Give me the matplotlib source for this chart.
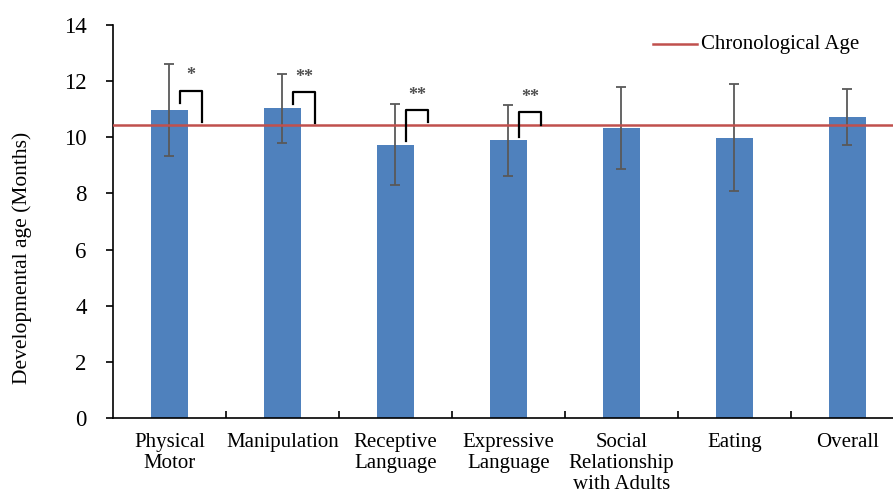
import numpy as np
import matplotlib.pyplot as plt

plt.rcParams['font.family'] = ['Liberation Serif', 'DejaVu Serif']

# data
categories = ['Physical\nMotor', 'Manipulation', 'Receptive\nLanguage', 'Expressive\nLanguage',
              'Social\nRelationship\nwith Adults', 'Eating', 'Overall']
means = [10.97, 11.03, 9.74, 9.89, 10.32, 9.99, 10.72]
sds = [1.65, 1.24, 1.45, 1.26, 1.46, 1.90, 0.99]
chrono_age = 10.44

# significance brackets: (bar index, left leg bottom, top, right leg bottom, label)
sig_bar = [0, 1, 2, 3]
sig_left = [11.23, 11.18, 9.88, 10.00]
sig_top = [11.66, 11.60, 10.97, 10.89]
sig_right = [10.56, 10.50, 10.56, 10.44]
sig_label = ['*', '**', '**', '**']

bar_col = '#4F81BD'
line_col = '#C0504D'

fig = plt.figure(figsize=(8.93, 4.95), dpi=100)
ax = fig.add_axes([0.1265, 0.1556, 0.8858, 0.794])

x = np.arange(len(categories))
ax.bar(x, means, width=0.33, color=bar_col, zorder=2)
ax.errorbar(x, means, yerr=sds, fmt='none', ecolor='#595959', elinewidth=1.3,
            capsize=3.3, capthick=1.3, zorder=3)
ax.axhline(chrono_age, color=line_col, lw=1.8, zorder=4)

for i, b in enumerate(sig_bar):
    xl = b + 0.09
    xr = b + 0.29
    ax.plot([xl, xl, xr, xr], [sig_left[i], sig_top[i], sig_top[i], sig_right[i]],
            color='black', lw=1.6, zorder=5)
    ax.text((xl + xr) / 2, sig_top[i] + 0.22, sig_label[i], ha='center', va='bottom',
            fontsize=13, color='#505050', fontweight='bold')

# legend drawn by hand (line + text) like the reference
ax.plot([4.28, 4.67], [13.32, 13.32], color=line_col, lw=1.8, clip_on=False)
ax.text(4.70, 13.32, 'Chronological Age', va='center', ha='left', fontsize=15)

ax.set_xlim(-0.5, 6.5)
ax.set_ylim(0, 14)
ax.set_yticks(np.arange(0, 15, 2))
ax.set_xticks(x)
ax.set_xticklabels(categories, fontsize=15, linespacing=1.12)
ax.set_xticks(np.arange(0.5, 6.5, 1), minor=True)
ax.tick_params(axis='x', which='major', length=0, pad=11)
ax.tick_params(axis='x', which='minor', length=5, direction='in', width=1.2)
ax.tick_params(axis='y', length=5, direction='out', width=1.2, labelsize=16.5, pad=14)
ax.set_ylabel('Developmental age (Months)', fontsize=15.5)
ax.yaxis.set_label_coords(-0.102, 0.408)

for s in ['top', 'right']:
    ax.spines[s].set_visible(False)
for s in ['left', 'bottom']:
    ax.spines[s].set_linewidth(1.2)

fig.savefig('out.png', dpi=100)
